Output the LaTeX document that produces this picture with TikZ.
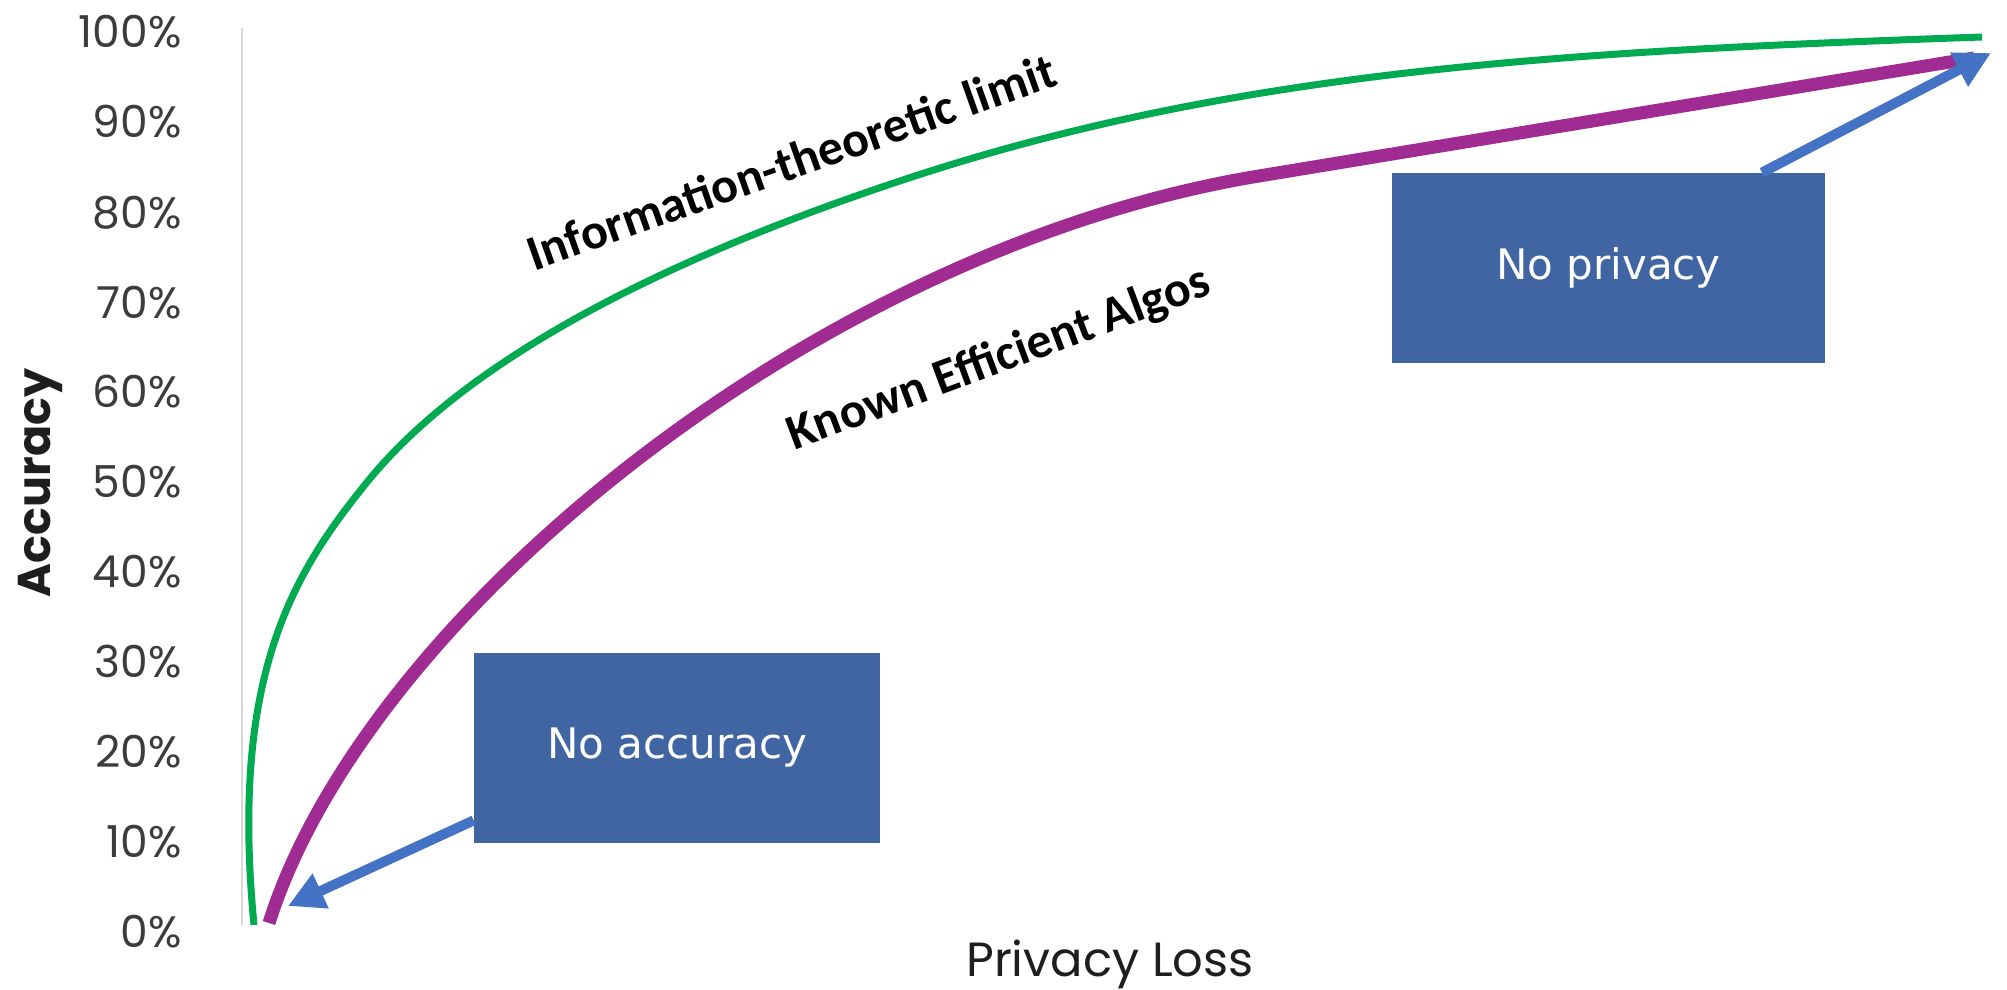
\documentclass[tikz,border=0pt]{standalone}
\usepackage{fontspec}
\setmainfont{Poppins}
\newfontfamily\boxfont{DejaVu Sans}
\newfontfamily\curvefont{Carlito}
\usetikzlibrary{arrows.meta,calc}
\definecolor{boxblue}{RGB}{64,101,162}
\definecolor{arrowblue}{RGB}{68,114,196}
\definecolor{limitgreen}{RGB}{0,170,80}
\definecolor{algopurple}{RGB}{160,43,147}
\definecolor{ticktext}{RGB}{60,60,60}
\definecolor{axisgray}{RGB}{215,215,215}
\definecolor{labeltext}{RGB}{30,30,30}
\tikzset{
  ticklabel/.style={anchor=base east, inner sep=0pt, text=ticktext, font=\fontsize{22}{26}\selectfont},
  axislabel/.style={inner sep=0pt, text=labeltext},
  infobox/.style={fill=boxblue, draw=none, inner sep=0pt, text=white, font=\boxfont\fontsize{21}{25}\selectfont},
  curvelabel/.style={anchor=base, inner sep=0pt, text=black, font=\curvefont\bfseries\fontsize{25}{30}\selectfont},
  pointer/.style={draw=arrowblue, line width=5pt, -{Triangle[length=18pt,width=18pt]}},
  greencurve/.style={draw=limitgreen, line width=3.5pt, line join=round},
  purplecurve/.style={draw=algopurple, line width=6.5pt, line join=round}
}
\begin{document}
\begin{tikzpicture}[x=0.5pt,y=-0.5pt]
\fill[white] (0,0) rectangle (2007,990);
\useasboundingbox (0,0) rectangle (2007,990);

% y axis line
\draw[axisgray, line width=1pt] (242,28) -- (242,925);

% tick labels
\foreach \p/\yy in {0/947, 10/857, 20/767, 30/677, 40/587, 50/497, 60/407, 70/318, 80/228, 90/138, 100/48}{
  \node[ticklabel] (tick\p) at (182,\yy) {\p\%};
}

% axis titles
\node[axislabel, rotate=90, anchor=base, font=\bfseries\fontsize{23}{28}\selectfont] (ylab) at (50,483) {Accuracy};
\node[axislabel, anchor=base, font=\fontsize{24}{29}\selectfont] (xlab) at (1110,976) {Privacy Loss};

% information-theoretic limit curve
\draw[greencurve] (254,925) .. controls (230,676) and (292.2,574) .. (368,481)
  .. controls (484.9,337.6) and (725,238) .. (915,176)
  .. controls (1248,67.5) and (1582,51) .. (1982,37);

% known efficient algorithms curve
\draw[purplecurve] (269,923) .. controls (365,618) and (815,249) .. (1259,176) -- (1974,58);

% curve labels
\node[curvelabel, rotate=19.5] (itl) at (797,178) {Information-theoretic limit};
\node[curvelabel, rotate=20.5] (kea) at (1004,372) {Known Efficient Algos};

% boxes
\node[infobox, minimum width=203pt, minimum height=95pt] (nacc) at (677,748) {No accuracy};
\node[infobox, minimum width=216.5pt, minimum height=95pt] (npriv) at (1608.5,268) {No privacy};

% pointers
\coordinate (acctip) at (288,906);
\coordinate (privtip) at (1991,53);
\draw[pointer] ([yshift=11.5pt]nacc.south west) -- (acctip);
\draw[pointer] ([xshift=76.75pt]npriv.north) -- (privtip);
\end{tikzpicture}
\end{document}
